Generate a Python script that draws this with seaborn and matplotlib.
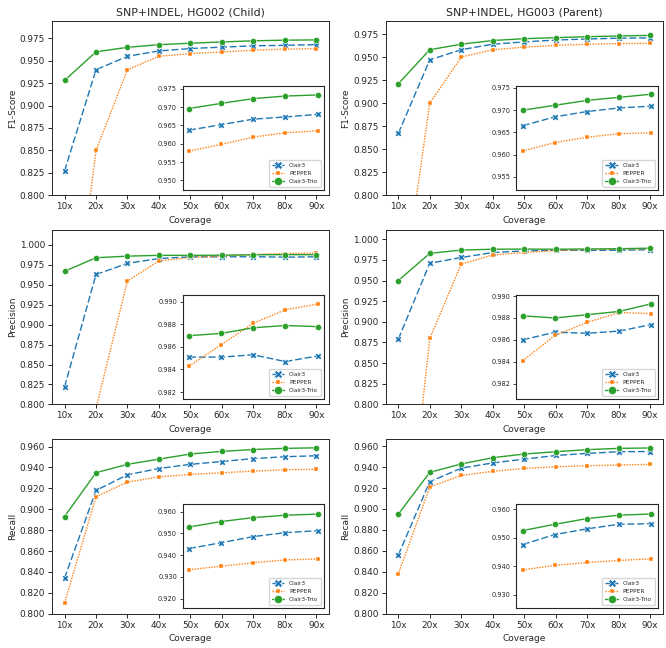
import numpy as np
import pandas as pd
import seaborn as sns
import matplotlib.pyplot as plt
from matplotlib.ticker import FormatStrFormatter

coverage = [10, 20, 30, 40, 50, 60, 70, 80, 90]
cov_labels = ['10x', '20x', '30x', '40x', '50x', '60x', '70x', '80x', '90x']
methods = ['Clair3', 'PEPPER', 'Clair3-Trio']

# F1-Score
f1_hg002_clair3 = [0.827, 0.940, 0.955, 0.961, 0.9637, 0.9652, 0.9667, 0.9673, 0.9680]
f1_hg002_pepper = [0.573, 0.850, 0.940, 0.955, 0.9580, 0.9598, 0.9618, 0.9630, 0.9635]
f1_hg002_trio = [0.928, 0.960, 0.965, 0.968, 0.9696, 0.9710, 0.9723, 0.9730, 0.9733]
f1_hg003_clair3 = [0.867, 0.947, 0.958, 0.964, 0.9665, 0.9685, 0.9697, 0.9705, 0.9709]
f1_hg003_pepper = [0.660, 0.900, 0.950, 0.958, 0.9608, 0.9627, 0.9639, 0.9647, 0.9649]
f1_hg003_trio = [0.921, 0.958, 0.964, 0.968, 0.9700, 0.9711, 0.9722, 0.9729, 0.9736]

# Precision
pre_hg002_clair3 = [0.822, 0.963, 0.977, 0.983, 0.9851, 0.9851, 0.9853, 0.9847, 0.9852]
pre_hg002_pepper = [0.420, 0.795, 0.955, 0.980, 0.9843, 0.9862, 0.9881, 0.9893, 0.9898]
pre_hg002_trio = [0.967, 0.984, 0.986, 0.987, 0.9870, 0.9872, 0.9877, 0.9879, 0.9878]
pre_hg003_clair3 = [0.879, 0.971, 0.978, 0.984, 0.9860, 0.9867, 0.9866, 0.9868, 0.9874]
pre_hg003_pepper = [0.530, 0.880, 0.970, 0.981, 0.9841, 0.9864, 0.9876, 0.9885, 0.9884]
pre_hg003_trio = [0.950, 0.983, 0.987, 0.988, 0.9882, 0.9880, 0.9883, 0.9886, 0.9893]

# Recall
rec_hg002_clair3 = [0.834, 0.918, 0.933, 0.939, 0.9430, 0.9457, 0.9485, 0.9503, 0.9512]
rec_hg002_pepper = [0.810, 0.912, 0.926, 0.931, 0.9333, 0.9349, 0.9365, 0.9378, 0.9382]
rec_hg002_trio = [0.893, 0.935, 0.943, 0.948, 0.9529, 0.9554, 0.9572, 0.9583, 0.9588]
rec_hg003_clair3 = [0.856, 0.926, 0.939, 0.944, 0.9476, 0.9511, 0.9531, 0.9547, 0.9549]
rec_hg003_pepper = [0.838, 0.921, 0.932, 0.936, 0.9387, 0.9403, 0.9413, 0.9420, 0.9426]
rec_hg003_trio = [0.895, 0.935, 0.943, 0.949, 0.9525, 0.9547, 0.9567, 0.9579, 0.9583]

# (metric, sample, series, main ylim, main tick step, inset ylim, inset tick step)
panels = [
    ('F1-Score', 'HG002', [f1_hg002_clair3, f1_hg002_pepper, f1_hg002_trio], (0.8, 0.9947), 0.025, (0.9475, 0.9758), 0.005),
    ('F1-Score', 'HG003', [f1_hg003_clair3, f1_hg003_pepper, f1_hg003_trio], (0.8, 0.9895), 0.025, (0.9521, 0.9755), 0.005),
    ('Precision', 'HG002', [pre_hg002_clair3, pre_hg002_pepper, pre_hg002_trio], (0.8, 1.0188), 0.025, (0.9814, 0.9906), 0.002),
    ('Precision', 'HG003', [pre_hg003_clair3, pre_hg003_pepper, pre_hg003_trio], (0.8, 1.0113), 0.025, (0.9806, 0.9901), 0.002),
    ('Recall', 'HG002', [rec_hg002_clair3, rec_hg002_pepper, rec_hg002_trio], (0.8, 0.967), 0.02, (0.9157, 0.9633), 0.01),
    ('Recall', 'HG003', [rec_hg003_clair3, rec_hg003_pepper, rec_hg003_trio], (0.8, 0.9666), 0.02, (0.9253, 0.9617), 0.01),
]
titles = {'HG002': 'SNP+INDEL, HG002 (Child)', 'HG003': 'SNP+INDEL, HG003 (Parent)'}


def ticks_in(lim, step):
    k0 = int(np.ceil(lim[0] / step - 1e-6))
    k1 = int(np.floor(lim[1] / step + 1e-6))
    return [round(k * step, 4) for k in range(k0, k1 + 1)]


sns.set_style('ticks')
plt.rcParams['font.family'] = ['DejaVu Sans']
colors = sns.color_palette('tab10')
style = {
    'Clair3': dict(color=colors[0], marker='X', linestyle=(0, (5, 2)), markersize=4.5,
                   markeredgecolor='white', markeredgewidth=0.4),
    'PEPPER': dict(color=colors[1], marker='s', linestyle=(0, (1, 1)), markersize=2.5,
                   markeredgecolor='white', markeredgewidth=0.3),
    'Clair3-Trio': dict(color=colors[2], marker='o', linestyle='-', markersize=4.5,
                        markeredgecolor='white', markeredgewidth=0.4),
}

fig, axes = plt.subplots(3, 2, figsize=(6.66, 6.48), dpi=100)
fig.subplots_adjust(left=0.078, right=0.995, top=0.968, bottom=0.053, wspace=0.205, hspace=0.2)

for ax, (metric, sample, series, ylim, step, ylim_in, step_in) in zip(axes.flat, panels):
    df = pd.DataFrame({
        'Coverage': coverage * 3,
        metric: [v for s in series for v in s],
        'Method': [m for m in methods for _ in coverage],
    })
    for m in methods:
        sub = df[df['Method'] == m]
        sns.lineplot(data=sub, x='Coverage', y=metric, ax=ax, linewidth=1.0, label=None, **style[m])
    ax.set_yticks(ticks_in(ylim, step))
    ax.set_ylim(*ylim)
    ax.set_xticks(coverage)
    ax.set_xticklabels(cov_labels)
    ax.yaxis.set_major_formatter(FormatStrFormatter('%.3f'))
    ax.tick_params(labelsize=6.4, length=3, width=0.7, pad=2)
    ax.set_xlabel('Coverage', fontsize=6.5, labelpad=3.5)
    ax.set_ylabel(metric, fontsize=6.5, labelpad=2)
    for sp in ax.spines.values():
        sp.set_linewidth(0.7)
    if metric == 'F1-Score':
        ax.set_title(titles[sample], fontsize=7.9, pad=4)
    if ax.get_legend() is not None:
        ax.get_legend().remove()

    # inset zoom on 50x-90x
    axin = ax.inset_axes([0.472, 0.032, 0.51, 0.595])
    dfi = df[df['Coverage'] >= 50]
    for m in methods:
        sub = dfi[dfi['Method'] == m]
        sns.lineplot(data=sub, x='Coverage', y=metric, ax=axin, linewidth=1.0, label=m, **style[m])
    axin.set_yticks(ticks_in(ylim_in, step_in))
    axin.set_ylim(*ylim_in)
    axin.set_xticks([])
    axin.set_xlabel('')
    axin.set_ylabel('')
    axin.yaxis.set_major_formatter(FormatStrFormatter('%.3f'))
    axin.tick_params(labelsize=4.8, length=2.5, width=0.6, pad=1.5)
    for sp in axin.spines.values():
        sp.set_linewidth(0.8)
    axin.legend(loc='lower right', fontsize=4.2, markerscale=1.3, handlelength=2.2,
                borderpad=0.5, labelspacing=0.5, frameon=True)

fig.savefig('out.png', dpi=100)
